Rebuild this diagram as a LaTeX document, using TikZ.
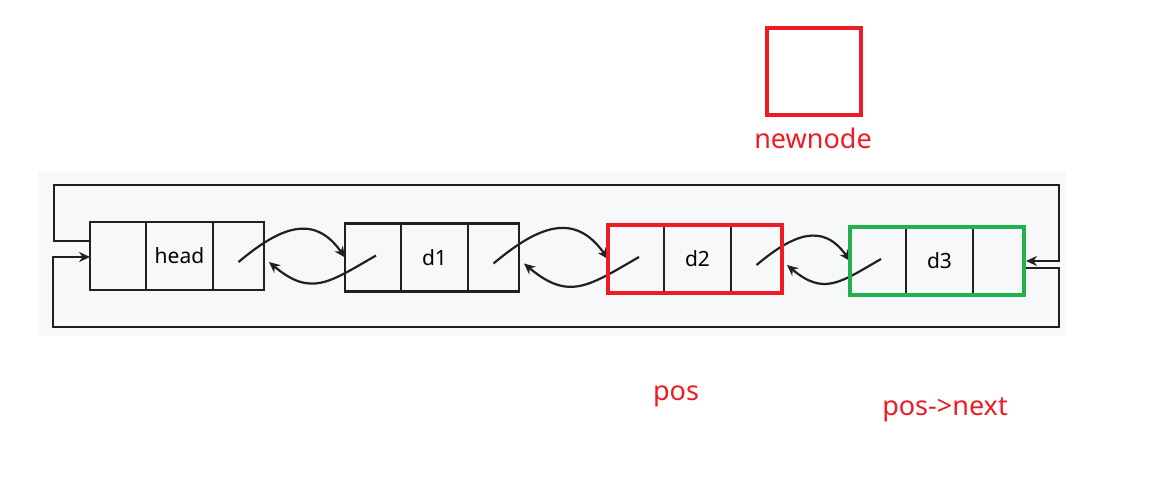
\documentclass[tikz,border=0pt]{standalone}
\usepackage{fontspec}
\setmainfont{Noto Sans}
\usetikzlibrary{arrows.meta, positioning}
\definecolor{pred}{RGB}{237,28,36}
\definecolor{pgreen}{RGB}{34,177,76}
\definecolor{panel}{RGB}{247,248,250}
\definecolor{ink}{RGB}{35,31,32}

\begin{document}
\begin{tikzpicture}[
  x=1pt, y=-1pt,
  node distance=0pt,
  cell/.style={draw=ink, line width=2.2pt, minimum height=68pt, inner sep=0pt,
               outer sep=0pt, font=\fontsize{21}{25}\selectfont},
  link/.style={draw=ink, line width=2.2pt, -{Stealth[length=11pt, width=10pt]}},
  lbl/.style={text=pred, font=\fontsize{27}{31}\selectfont, inner sep=0pt},
]
\useasboundingbox (0,0) rectangle (1155,482);
\fill[panel] (38,172) rectangle (1066,336);

% the four list nodes
\foreach \n/\txt/\x/\y in {h/head/90/256, a/d1/345/257.5, b/d2/608/259, c/d3/850/261} {
  \node[cell, minimum width=56pt, anchor=west] (\n p) at (\x,\y) {};
  \node[cell, minimum width=67pt, right=of \n p] (\n d) {\txt};
  \node[cell, minimum width=51pt, right=of \n d] (\n n) {};
}

% next / prev links
\foreach \a/\b in {h/a, a/b, b/c} {
  \draw[link] ([yshift=-6pt]\a n.center) to[out=40, in=125, looseness=1.3] (\b p.west);
  \draw[link] ([xshift=3pt, yshift=2pt]\b p.center) to[out=210, in=-40, looseness=1.3]
    ([xshift=5pt, yshift=-6pt]\a n.east);
}

% closing the ring
\coordinate (topl) at (54,185);
\coordinate (topr) at (1059,185);
\coordinate (botl) at (53,327);
\coordinate (botr) at (1059,327);
\draw[link] ([yshift=15pt]hp.west) -| (topl) -- (topr) |- ([xshift=2pt]cn.east);
\draw[link] ([yshift=-7pt]cn.east) -| (botr) -- (botl) |- ([yshift=-1pt]hp.west);

% highlights
\draw[pred, line width=4pt] (bp.north west) rectangle (bn.south east);
\draw[pgreen, line width=4pt] (cp.north west) rectangle (cn.south east);

\node[draw=pred, line width=4pt, minimum width=94pt, minimum height=87pt] (newnode) at (814,71.5) {};
\node[lbl, anchor=base] (newlbl) at (813,148) {newnode};
\node[lbl, anchor=base] (poslbl) at (676,400) {pos};
\node[lbl, anchor=base] (nextlbl) at (945,415) {pos-{}>next};
\end{tikzpicture}
\end{document}
